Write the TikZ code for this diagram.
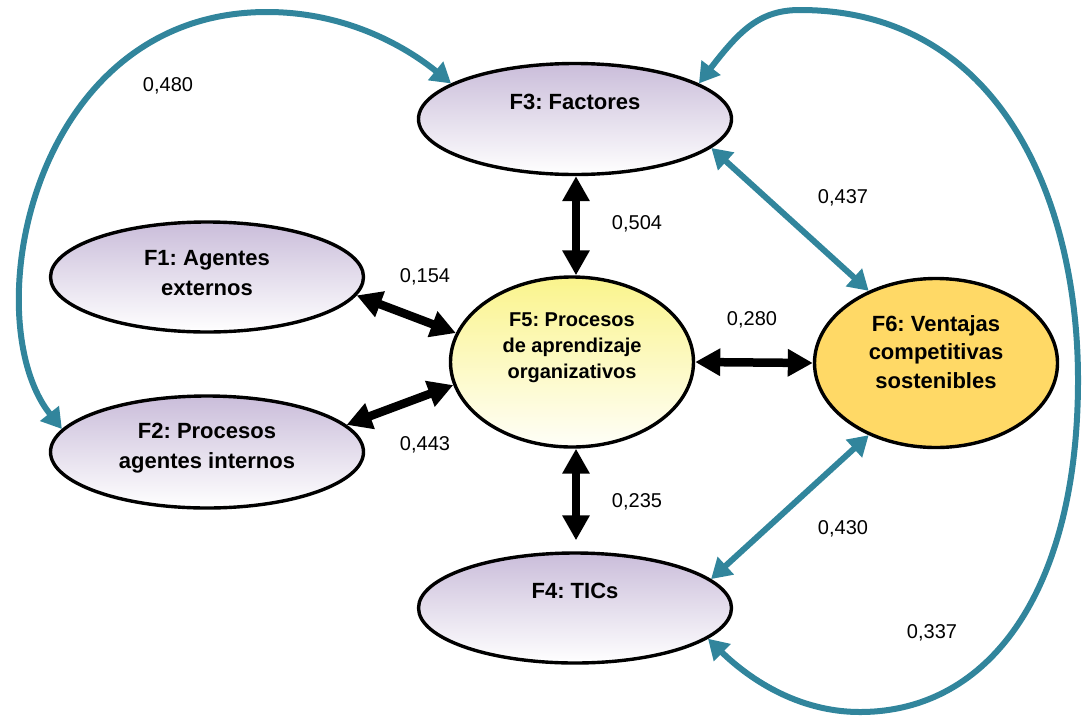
\documentclass[tikz,border=0pt]{standalone}
\usepackage{fontspec}
\setmainfont{Liberation Sans}
\frenchspacing
\usetikzlibrary{arrows.meta,shapes.geometric}
\definecolor{tealc}{RGB}{49,133,156}
\definecolor{lilac}{RGB}{202,189,218}
\definecolor{lemon}{RGB}{250,244,140}
\definecolor{gold}{RGB}{255,217,102}
\tikzset{
  ell/.style={ellipse,draw,line width=3.4pt,inner sep=0pt},
  fac/.style={ell,top color=lilac,bottom color=white,minimum width=313pt,minimum height=110pt},
  fac5/.style={ell,top color=lemon,bottom color=lemon!6,minimum width=243pt,minimum height=170pt},
  fac6/.style={ell,fill=gold,minimum width=243pt,minimum height=169pt},
  ftxt/.style={align=center,font=\fontsize{22}{29.5}\selectfont\bfseries},
  ftxt5/.style={align=center,font=\fontsize{20}{26}\selectfont\bfseries},
  coef/.style={font=\fontsize{20}{24}\selectfont},
  ar/.style={{Triangle[length=25pt,width=26pt]}-{Triangle[length=25pt,width=26pt]},line width=8.5pt},
  car/.style={{Triangle[length=20pt,width=23pt]}-{Triangle[length=20pt,width=23pt]},line width=6pt,tealc},
}
\begin{document}
\begin{tikzpicture}[x=1pt,y=-1pt]
  \useasboundingbox (0,0) rectangle (1083,715);
  % factors
  \node[fac] (F1) at (207,277) {};
  \node[fac,minimum height=112pt] (F2) at (207,452) {};
  \node[fac,minimum height=111pt] (F3) at (575,119) {};
  \node[fac] (F4) at (575,608) {};
  \node[fac5] (F5) at (572,362) {};
  \node[fac6] (F6) at (936,363) {};
  \node[ftxt] (t1) at (207,273) {F1: Agentes\\externos};
  \node[ftxt] (t2) at (207,448) {F2: Procesos\\agentes internos};
  \node[ftxt] (t3) at (575,102) {F3: Factores};
  \node[ftxt] (t4) at (575,591) {F4: TICs};
  \node[ftxt5] (t5) at (572,348) {F5: Procesos\\de aprendizaje\\organizativos};
  \node[ftxt,font=\fontsize{22}{28.5}\selectfont\bfseries] (t6) at (936,352) {F6: Ventajas\\competitivas\\sostenibles};
  % links to F5
  \draw[ar] (F3.south -| 576,0) -- (F5.north -| 576,0);
  \draw[ar,shorten >=11pt] (F5.south -| 576,0) -- (F4.north -| 576,0);
  \draw[ar] (F1.-7) -- (F5.166);
  \draw[ar] (F2.11) -- (F5.191);
  \draw[ar] (F5.east) -- (F6.west);
  % links to F6
  \draw[car] (F3.-12) -- (F6.133);
  \draw[car] (F4.12) -- (F6.227);
  \draw[car] (F2.171) .. controls (-25,320) and (30,12) .. (267,12)
    .. controls (350,12) and (410,50) .. (F3.164);
  \draw[car] (F3.16) .. controls (740,30) and (760,10) .. (800,10)
    .. controls (1000,10) and (1078,200) .. (1078,380)
    .. controls (1078,590) and (990,712) .. (860,712)
    .. controls (790,712) and (740,670) .. (F4.-13);
  % coefficients
  \node[coef] (c1) at (168,86) {0,480};
  \node[coef] (c2) at (637,224) {0,504};
  \node[coef] (c3) at (425,277) {0,154};
  \node[coef] (c4) at (425,445) {0,443};
  \node[coef] (c5) at (752,320) {0,280};
  \node[coef] (c6) at (843,198) {0,437};
  \node[coef] (c7) at (637,502) {0,235};
  \node[coef] (c8) at (843,529) {0,430};
  \node[coef] (c9) at (932,633) {0,337};
\end{tikzpicture}
\end{document}
